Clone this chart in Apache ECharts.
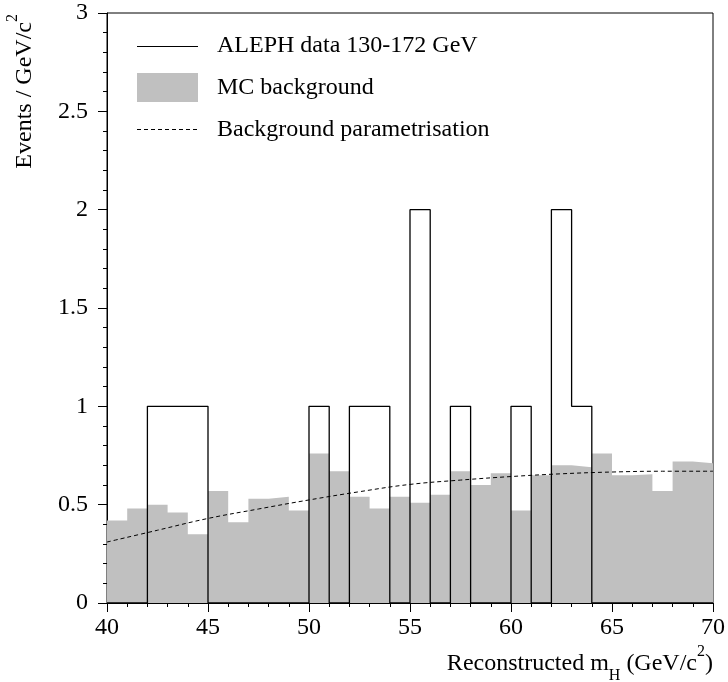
<!DOCTYPE html>
<html>
<head>
<meta charset="utf-8">
<script src="https://cdn.jsdelivr.net/npm/echarts@6/dist/echarts.min.js"></script>
<style>
  html, body { margin: 0; padding: 0; background: #fff; }
  #main { width: 728px; height: 682px; }
</style>
</head>
<body>
<div id="main"></div>
<script>
// lower edge of each 1 GeV bin
const binLow = [40, 41, 42, 43, 44, 45, 46, 47, 48, 49, 50, 51, 52, 53, 54,
  55, 56, 57, 58, 59, 60, 61, 62, 63, 64, 65, 66, 67, 68, 69];
const binHigh = 70;

// ALEPH data 130-172 GeV (events per bin)
const alephData = [0, 0, 1, 1, 1, 0, 0, 0, 0, 0, 1, 0, 1, 1, 0,
  2, 0, 1, 0, 0, 1, 0, 2, 1, 0, 0, 0, 0, 0, 0];

// MC background
const mcBackground = [0.42, 0.48, 0.50, 0.46, 0.35, 0.57, 0.41, 0.53, 0.54, 0.47,
  0.76, 0.67, 0.54, 0.48, 0.54, 0.51, 0.55, 0.67, 0.60, 0.66,
  0.47, 0.65, 0.70, 0.69, 0.76, 0.65, 0.655, 0.57, 0.72, 0.71];

// background parametrisation
const paramMass = [40, 42.5, 45, 47.5, 50, 52.5, 55, 57.5, 60, 62.5, 65, 67.5, 70];
const paramValue = [0.31, 0.37, 0.43, 0.478, 0.524, 0.566, 0.603, 0.625, 0.643, 0.657, 0.666, 0.670, 0.670];

const xTicks = { min: 40, max: 70, interval: 5 };
const yTicks = { min: 0, max: 3, interval: 0.5 };

const FONT = "Liberation Serif";

// histogram as step line: point at each lower edge + closing point at upper edge
function histPoints(values) {
  const pts = binLow.map((x, i) => [x, values[i]]);
  pts.push([binHigh, values[values.length - 1]]);
  return pts;
}

// main text + sub/superscript pieces for the axis titles
const titleRich = {
  a: { fontFamily: FONT, fontSize: 24, lineHeight: 40, verticalAlign: "middle", fill: "#000" },
  s: { fontFamily: FONT, fontSize: 16, lineHeight: 13, verticalAlign: "bottom", fill: "#000" },
  p: { fontFamily: FONT, fontSize: 16, lineHeight: 15, verticalAlign: "top", fill: "#000" },
};

const chart = echarts.init(document.getElementById("main"));

const option = {
  animation: false,
  backgroundColor: "#fff",
  grid: {
    left: 107,
    right: 15,
    top: 13,
    bottom: 79,
    show: true,
    borderColor: "#000",
    borderWidth: 1,
    backgroundColor: "transparent",
  },
  xAxis: {
    type: "value",
    min: xTicks.min,
    max: xTicks.max,
    interval: xTicks.interval,
    axisLine: { show: true, onZero: false, lineStyle: { color: "#000", width: 1 } },
    axisTick: { show: true, length: 9, lineStyle: { color: "#000" } },
    minorTick: { show: true, splitNumber: 5, length: 4, lineStyle: { color: "#000" } },
    splitLine: { show: false },
    axisLabel: { color: "#000", fontFamily: FONT, fontSize: 24, margin: 13 },
  },
  yAxis: {
    type: "value",
    min: yTicks.min,
    max: yTicks.max,
    interval: yTicks.interval,
    axisLine: { show: true, lineStyle: { color: "#000", width: 1 } },
    axisTick: { show: true, length: 9, lineStyle: { color: "#000" } },
    minorTick: { show: true, splitNumber: 5, length: 4, lineStyle: { color: "#000" } },
    splitLine: { show: false },
    axisLabel: { color: "#000", fontFamily: FONT, fontSize: 24, margin: 19 },
  },
  series: [
    {
      name: "MC background",
      type: "line",
      step: "end",
      symbol: "none",
      data: histPoints(mcBackground),
      lineStyle: { width: 0, color: "#c0c0c0" },
      itemStyle: { color: "#c0c0c0" },
      areaStyle: { color: "#c0c0c0", opacity: 1 },
      z: 1,
    },
    {
      name: "Background parametrisation",
      type: "line",
      smooth: 0.4,
      symbol: "none",
      data: paramMass.map((x, i) => [x, paramValue[i]]),
      lineStyle: { color: "#000", width: 1, type: [4, 3] },
      z: 3,
    },
    {
      name: "ALEPH data 130-172 GeV",
      type: "line",
      step: "end",
      symbol: "none",
      data: histPoints(alephData),
      lineStyle: { color: "#000", width: 1.3 },
      z: 4,
    },
  ],
  graphic: [
    // legend
    { type: "line", shape: { x1: 137, y1: 46.5, x2: 198, y2: 46.5 }, style: { stroke: "#000", lineWidth: 1 } },
    { type: "rect", shape: { x: 137, y: 73, width: 61, height: 29 }, style: { fill: "#c0c0c0" } },
    { type: "line", shape: { x1: 137, y1: 129.5, x2: 198, y2: 129.5 }, style: { stroke: "#000", lineWidth: 1, lineDash: [4, 3] } },
    { type: "text", x: 217, y: 46, style: { text: "ALEPH data 130-172 GeV", font: "24px " + FONT, fill: "#000", verticalAlign: "middle" } },
    { type: "text", x: 217, y: 88, style: { text: "MC background", font: "24px " + FONT, fill: "#000", verticalAlign: "middle" } },
    { type: "text", x: 217, y: 130, style: { text: "Background parametrisation", font: "24px " + FONT, fill: "#000", verticalAlign: "middle" } },
    // x axis title
    {
      type: "text",
      x: 713,
      y: 644,
      style: {
        text: "{a|Reconstructed m}{s|H}{a| (GeV/c}{p|2}{a|)}",
        align: "right",
        verticalAlign: "top",
        fill: "#000",
        rich: titleRich,
      },
    },
    // y axis title
    {
      type: "text",
      x: 5,
      y: 14,
      rotation: Math.PI / 2,
      style: {
        text: "{a|Events / GeV/c}{p|2}",
        align: "right",
        verticalAlign: "top",
        fill: "#000",
        rich: titleRich,
      },
    },
  ],
};

chart.setOption(option);
</script>
</body>
</html>
